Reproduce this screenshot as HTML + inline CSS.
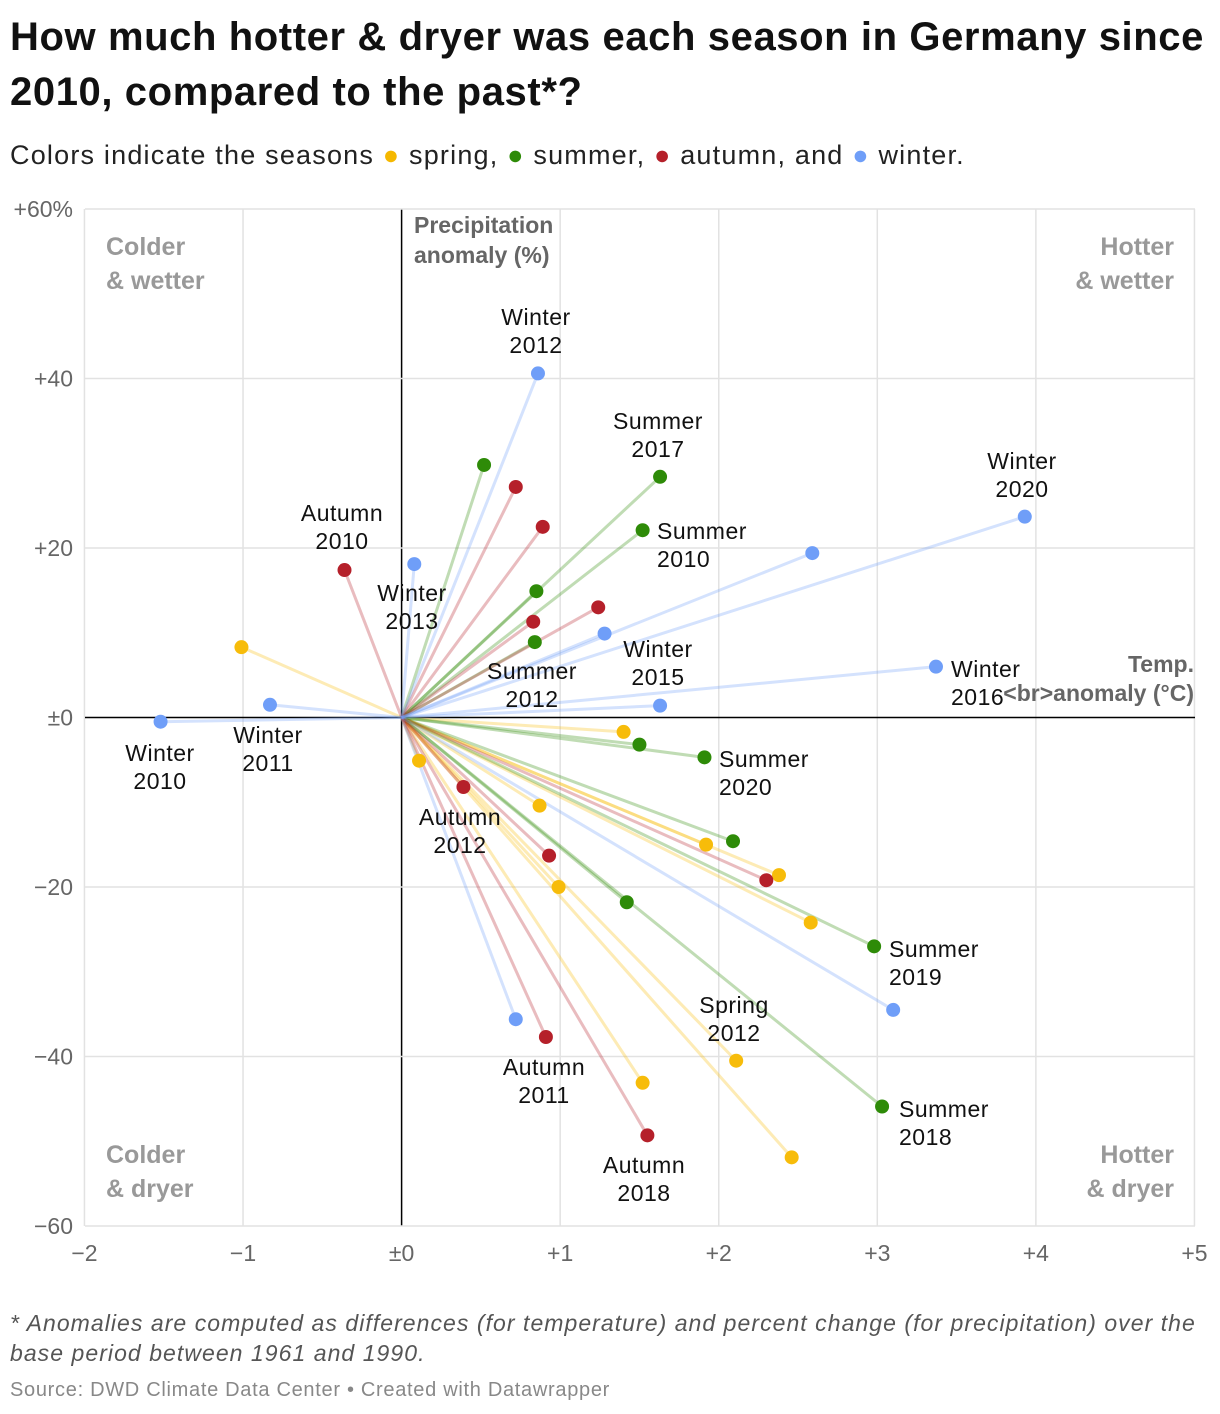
<!DOCTYPE html>
<html><head><meta charset="utf-8">
<style>
body{margin:0;background:#fff;font-family:"Liberation Sans",sans-serif;}
#wrap{position:relative;width:1220px;height:1414px;overflow:hidden;}
.t{position:absolute;left:10px;white-space:nowrap;}
</style></head>
<body>
<div id="wrap">
<div class="t" style="top:10px;font-size:40px;font-weight:bold;line-height:55px;color:#111;letter-spacing:0.6px;">How much hotter &amp; dryer was each season in Germany since<br>2010, compared to the past*?</div>
<div class="t" style="top:140px;font-size:27px;color:#222;letter-spacing:1.2px;">Colors indicate the seasons <span style="color:#f5b800">●</span> spring, <span style="color:#2e8b08">●</span> summer, <span style="color:#b5202a">●</span> autumn, and <span style="color:#6f9ef8">●</span> winter.</div>
<svg id="chart" width="1220" height="1414" style="position:absolute;left:0;top:0;"></svg>
<div class="t" style="top:1308px;font-size:23px;font-style:italic;color:#555;line-height:30px;letter-spacing:1.05px;">* Anomalies are computed as differences (for temperature) and percent change (for precipitation) over the<br>base period between 1961 and 1990.</div>
<div class="t" style="top:1379px;font-size:20px;color:#888;letter-spacing:0.7px;">Source: DWD Climate Data Center • Created with Datawrapper</div>
</div>
<script>
const xTicks=[-2,-1,0,1,2,3,4,5];
const xTickLabels=["−2","−1","±0","+1","+2","+3","+4","+5"];
const yTicks=[60,40,20,0,-20,-40,-60];
const yTickLabels=["+60%","+40","+20","±0","−20","−40","−60"];
const springX=[-1.01,0.11,1.40,0.87,1.92,2.38,0.99,2.58,2.11,1.52,2.46];
const springY=[8.3,-5.1,-1.7,-10.4,-15.0,-18.6,-20.0,-24.2,-40.5,-43.1,-51.9];
const summerX=[0.52,1.63,1.52,0.85,0.84,1.50,1.91,2.09,1.42,2.98,3.03];
const summerY=[29.8,28.4,22.1,14.9,8.9,-3.2,-4.7,-14.6,-21.8,-27.0,-45.9];
const autumnX=[-0.36,0.72,0.89,1.24,0.83,0.39,0.93,2.30,0.91,1.55];
const autumnY=[17.4,27.2,22.5,13.0,11.3,-8.2,-16.3,-19.2,-37.7,-49.3];
const winterX=[0.86,0.08,-0.83,-1.52,2.59,3.93,1.28,3.37,1.63,3.10,0.72];
const winterY=[40.6,18.1,1.5,-0.5,19.4,23.7,9.9,6.0,1.4,-34.5,-35.6];
const NS='http://www.w3.org/2000/svg';
const svg=document.getElementById('chart');
const X=v=>401.6+v*158.57, Y=v=>717.5-v*8.475;
function mk(tag,attrs,txt){const e=document.createElementNS(NS,tag);for(const k in attrs)e.setAttribute(k,attrs[k]);if(txt!==undefined)e.textContent=txt;svg.appendChild(e);return e;}
xTicks.forEach((v,i)=>{
 const g=mk('line',{x1:X(v),x2:X(v),y1:209,y2:1226,stroke:v===0?'#000':'#e2e2e2','stroke-width':1.5});
 
 
 const t=mk('text',{x:X(v),y:1261,'text-anchor':'middle','font-size':23,fill:'#666'},xTickLabels[i]);
 
 
});
yTicks.forEach((v,i)=>{
 const g=mk('line',{x1:85,x2:1195,y1:Y(v),y2:Y(v),stroke:v===0?'#000':'#e2e2e2','stroke-width':1.5});
 
 
 const t=mk('text',{x:73,y:Y(v)+8,'text-anchor':'end','font-size':23,fill:'#666'},yTickLabels[i]);
 
 
});
const series=[['spring',springX,springY,'#f7bc0a'],['summer',summerX,summerY,'#2e8b08'],['autumn',autumnX,autumnY,'#b5202a'],['winter',winterX,winterY,'#6f9ef8']];
series.forEach(([n,xs,ys,c])=>{xs.forEach((x,i)=>{
 const l=mk('line',{x1:X(0),y1:Y(0),x2:X(x),y2:Y(ys[i]),stroke:c,'stroke-width':3,'stroke-opacity':0.3});
 
 
});});
series.forEach(([n,xs,ys,c])=>{xs.forEach((x,i)=>{
 const p=mk('circle',{cx:X(x),cy:Y(ys[i]),r:7,fill:c});
 
 
});});
const labels=[["Winter","2012",536,317,'middle'],["Summer","2017",658,421,'middle'],["Winter","2020",1022,461,'middle'],["Autumn","2010",342,513,'middle'],["Summer","2010",657,531,'start'],["Winter","2013",412,593,'middle'],["Summer","2012",532,671,'middle'],["Winter","2015",658,649,'middle'],["Winter","2016",951,669,'start'],["Winter","2010",160,753,'middle'],["Winter","2011",268,735,'middle'],["Summer","2020",719,759,'start'],["Autumn","2012",460,817,'middle'],["Summer","2019",889,949,'start'],["Spring","2012",734,1005,'middle'],["Autumn","2011",544,1067,'middle'],["Summer","2018",899,1109,'start'],["Autumn","2018",644,1165,'middle']];
labels.forEach(([a,b,x,y,anc])=>{
 const t=mk('text',{x:x,y:y+8,'text-anchor':anc,'font-size':23,fill:'#111','letter-spacing':0.5});
 
 
 const s1=document.createElementNS(NS,'tspan');s1.setAttribute('x',x);s1.textContent=a;t.appendChild(s1);
 const s2=document.createElementNS(NS,'tspan');s2.setAttribute('x',x);s2.setAttribute('dy',28);s2.textContent=b;t.appendChild(s2);
});
function bold(txt,x,y,anc,name){const t=mk('text',{x:x,y:y,'text-anchor':anc,'font-size':25,'font-weight':'bold',fill:'#999'},txt);return t;}
bold('Colder',106,255,'start','quadrant-label');bold('& wetter',106,289,'start','quadrant-label');
bold('Hotter',1174,255,'end','quadrant-label');bold('& wetter',1174,289,'end','quadrant-label');
bold('Colder',106,1163,'start','quadrant-label');bold('& dryer',106,1197,'start','quadrant-label');
bold('Hotter',1174,1163,'end','quadrant-label');bold('& dryer',1174,1197,'end','quadrant-label');
function axt(txt,x,y,anc,name){const t=mk('text',{x:x,y:y,'text-anchor':anc,'font-size':23,'font-weight':'bold',fill:'#666'},txt);}
axt('Precipitation',414,233,'start','y-axis-title');axt('anomaly (%)',414,263,'start','y-axis-title');
axt('Temp.',1194,672,'end','x-axis-title');axt('<br>anomaly (°C)',1194,701,'end','x-axis-title');
</script>
</body></html>
